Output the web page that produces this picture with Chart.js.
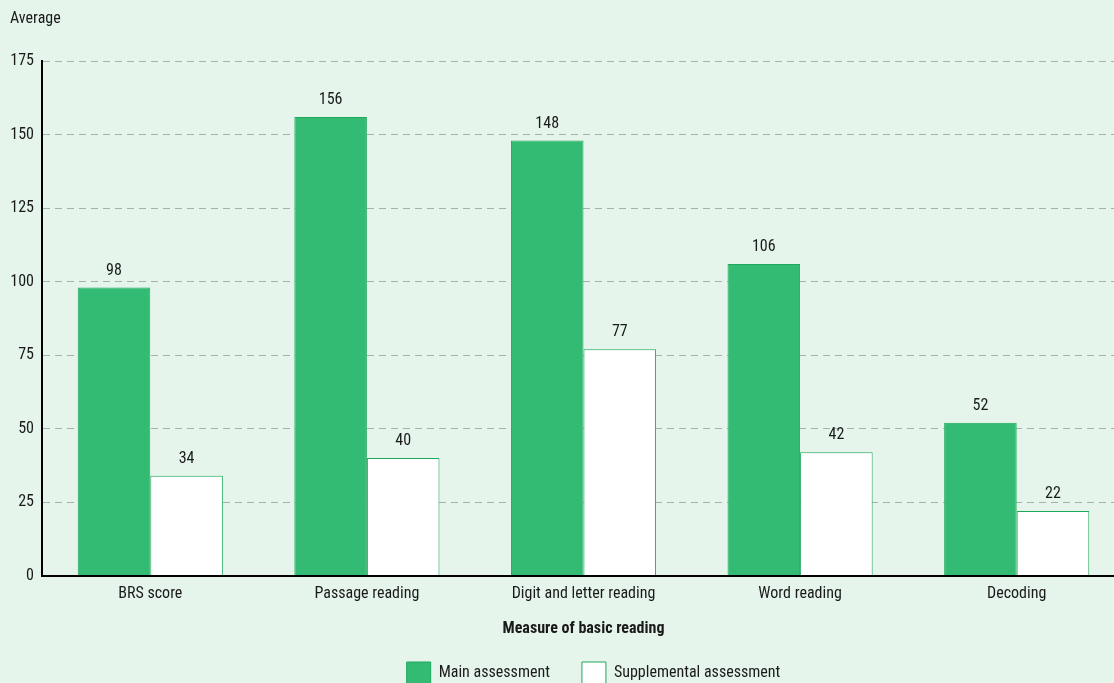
<!DOCTYPE html>
<html><head><meta charset="utf-8">
<script src="https://cdn.jsdelivr.net/npm/chart.js@4/dist/chart.umd.min.js"></script>
<style>
html,body{margin:0;padding:0;background:#e5f5eb;overflow:hidden;width:1114px;height:683px;}
#wrap{position:absolute;left:0;top:0;width:1125px;height:694px;}
</style></head><body>
<div id="wrap"><canvas id="c" width="1125" height="694"></canvas></div>
<script>
const categories = ["BRS score","Passage reading","Digit and letter reading","Word reading","Decoding"];
const mainValues = [98,156,148,106,52];
const supplementalValues = [34,40,77,42,22];
const seriesNames = ["Main assessment","Supplemental assessment"];
const yTicks = [0,25,50,75,100,125,150,175];

const FONT = "'Roboto Condensed','DejaVu Sans Condensed',sans-serif";
const TXT = '#1a1a1a';

const labelPlugin = {
  id:'valueLabels',
  afterDatasetsDraw(chart){
    const ctx = chart.ctx;
    ctx.save();
    ctx.font = "16px " + FONT;
    ctx.fillStyle = TXT;
    ctx.textAlign = 'center';
    ctx.textBaseline = 'bottom';
    chart.data.datasets.forEach((ds,i)=>{
      chart.getDatasetMeta(i).data.forEach((bar,j)=>{
        ctx.fillText(String(ds.data[j]), bar.x, bar.y - 9);
      });
    });
    ctx.restore();
  }
};

const legendShift = {
  id:'legendShift',
  beforeDraw(chart){
    if(chart.legend){ chart.legend.left += 26; chart.legend.right += 26; }
  }
};

new Chart(document.getElementById('c'),{
  type:'bar',
  data:{
    labels:categories,
    datasets:[
      {label:seriesNames[0],data:mainValues,backgroundColor:'#33bb73',borderColor:'#1fa85c',borderWidth:1},
      {label:seriesNames[1],data:supplementalValues,backgroundColor:'#ffffff',borderColor:'#1fa85c',borderWidth:1}
    ]
  },
  options:{
    responsive:false,
    animation:false,
    layout:{padding:{left:10,right:0,top:9,bottom:0}},
    datasets:{bar:{categoryPercentage:0.67,barPercentage:1.0}},
    plugins:{
      title:{display:true,text:'Average',align:'start',color:TXT,font:{family:FONT,size:16,weight:'normal'},padding:{top:0,bottom:33}},
      legend:{position:'bottom',labels:{boxWidth:24,boxHeight:22,color:TXT,font:{family:FONT,size:16},padding:32,
        generateLabels(chart){
          return chart.data.datasets.map((d,i)=>({text:d.label,fillStyle:d.backgroundColor,strokeStyle:d.borderColor,lineWidth:1,datasetIndex:i,fontColor:TXT}));
        }}},
      tooltip:{enabled:false}
    },
    scales:{
      x:{
        grid:{display:false},
        border:{display:true,color:'#000',width:2},
        ticks:{color:TXT,font:{family:FONT,size:16},padding:1},
        title:{display:true,text:'Measure of basic reading',color:TXT,font:{family:FONT,size:16,weight:'bold'},padding:{top:15,bottom:-9}}
      },
      y:{
        min:0,max:175,
        afterBuildTicks(axis){axis.ticks = yTicks.map(v=>({value:v}));},
        afterFit(axis){axis.width = 32;},
        grid:{color:'#a9b0ac',lineWidth:1,drawTicks:false},
        border:{display:true,color:'#000',width:2,dash:[7,5]},
        ticks:{color:TXT,font:{family:FONT,size:16},padding:8}
      }
    }
  },
  plugins:[labelPlugin,legendShift]
});
</script>
</body></html>
